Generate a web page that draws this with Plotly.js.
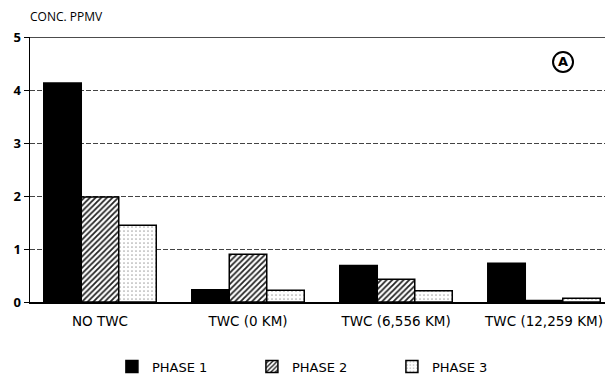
<!DOCTYPE html>
<html>
<head>
<meta charset="utf-8">
<script src="https://cdn.plot.ly/plotly-3.0.1.min.js"></script>
<style>html,body{margin:0;padding:0;background:#fff;}#chart{width:605px;height:376px;}</style>
</head>
<body>
<div id="chart"></div>
<script>
var categories = ["NO TWC", "TWC (0 KM)", "TWC (6,556 KM)", "TWC (12,259 KM)"];
var phase1 = [4.13, 0.23, 0.69, 0.73];
var phase2 = [1.98, 0.90, 0.43, 0.03];
var phase3 = [1.45, 0.22, 0.21, 0.07];
var seriesNames = ["PHASE 1", "PHASE 2", "PHASE 3"];
var yTicks = [0, 1, 2, 3, 4, 5];
var yTickText = ["0", "1", "2", "3", "4", "5"];

var FONT = "Open Sans, Lato, sans-serif";
var WIDE = "DejaVu Sans, Verdana, sans-serif";
var line = {color: "#000", width: 1.5};

var traces = [
  {type: "bar", name: seriesNames[0], x: categories, y: phase1,
   marker: {color: "#000", line: line}},
  {type: "bar", name: seriesNames[1], x: categories, y: phase2,
   marker: {color: "#fff", line: line,
            pattern: {shape: "/", fgcolor: "#222", bgcolor: "#fff", size: 4, solidity: 0.45}}},
  {type: "bar", name: seriesNames[2], x: categories, y: phase3,
   marker: {color: "#fff", line: line,
            pattern: {shape: ".", fgcolor: "#aaa", bgcolor: "#fff", size: 4, solidity: 0.15}}}
];

var layout = {
  width: 605, height: 376,
  margin: {l: 30, r: 0, t: 37, b: 74},
  paper_bgcolor: "#fff", plot_bgcolor: "#fff",
  barmode: "group", bargap: 0.24, bargroupgap: 0,
  font: {family: WIDE, color: "#000", size: 13},
  showlegend: true,
  title: {text: "CONC. PPMV", xref: "paper", x: 0, xanchor: "left",
          yref: "container", y: 0.955, yanchor: "middle",
          font: {family: FONT, size: 12, color: "#000"}},
  xaxis: {type: "category", range: [-0.473, 3.412], showgrid: false, showline: true, linecolor: "#000", linewidth: 1.5,
          ticks: "", ticklabelstandoff: 6, tickfont: {family: WIDE, size: 13.5, color: "#000"}, fixedrange: true},
  yaxis: {range: [0, 5], tickvals: yTicks, ticktext: yTickText, showline: true, linecolor: "#000",
          linewidth: 1.5, ticks: "outside", ticklen: 5, tickcolor: "#000", tickwidth: 1,
          showgrid: true, gridcolor: "#444", gridwidth: 1, griddash: "5px,2px", zeroline: false,
          tickfont: {family: FONT, size: 13, color: "#000", weight: "bold"}},
  legend: {orientation: "h", x: 0.185, xanchor: "left", xref: "container", y: 0.025, yref: "container", yanchor: "middle",
           font: {family: WIDE, size: 13, color: "#000"}, itemwidth: 30, entrywidth: 95,
           tracegroupgap: 0, traceorder: "normal"},
  shapes: [
    {type: "line", xref: "paper", yref: "y", x0: 0, x1: 1, y0: 5, y1: 5,
     line: {color: "#111", width: 1.5}},
    {type: "circle", xref: "paper", yref: "paper", xsizemode: "pixel", ysizemode: "pixel",
     xanchor: 0.927, yanchor: 0.906, x0: -10, x1: 10, y0: -10, y1: 10,
     line: {color: "#000", width: 2}, fillcolor: "rgba(0,0,0,0)"}
  ],
  annotations: [
    {xref: "paper", yref: "paper", x: 0.927, y: 0.906, text: "<b>A</b>", showarrow: false,
     xanchor: "center", yanchor: "middle", font: {family: WIDE, size: 13, color: "#000"}}
  ]
};

Plotly.newPlot("chart", traces, layout, {displayModeBar: false, staticPlot: true});
</script>
</body>
</html>
